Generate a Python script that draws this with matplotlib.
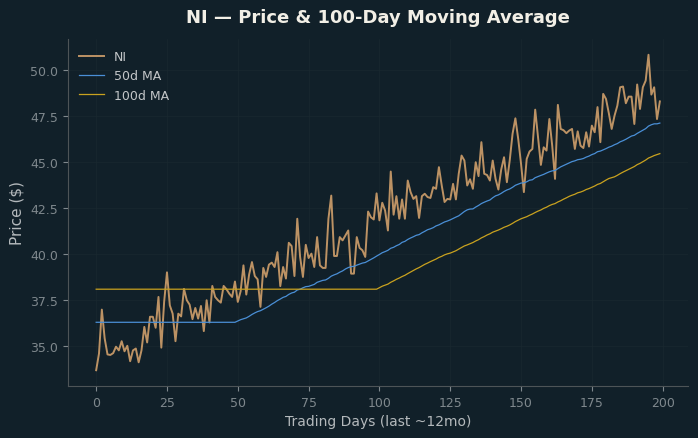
import numpy as np
import pandas as pd
import matplotlib
matplotlib.use("Agg")
import matplotlib.pyplot as plt

# closing prices, one per trading day
price = [
    33.67, 34.58, 36.97, 35.40, 34.53, 34.50, 34.60, 34.95, 34.75, 35.25,
    34.70, 35.00, 34.16, 34.75, 34.85, 34.10, 34.75, 36.03, 35.18, 36.58,
    36.58, 35.98, 37.66, 34.90, 37.40, 39.00, 37.20, 36.75, 35.25, 36.75,
    36.60, 38.10, 37.48, 37.24, 36.45, 37.06, 36.48, 37.17, 35.80, 37.48,
    36.27, 38.26, 37.66, 37.48, 37.35, 38.26, 38.08, 37.84, 37.66, 38.50,
    37.39, 37.97, 39.38, 37.79, 38.88, 39.56, 38.80, 38.62, 37.12, 39.24,
    38.75, 39.42, 39.53, 39.29, 40.10, 38.25, 39.29, 38.66, 40.61, 40.43,
    38.80, 41.92, 39.84, 38.75, 40.50, 39.78, 40.02, 39.29, 40.92, 39.38,
    39.24, 39.24, 41.92, 43.18, 39.89, 39.89, 40.92, 40.74, 41.01, 41.28,
    38.93, 38.93, 40.92, 40.33, 40.20, 39.84, 42.31, 42.00, 41.88, 43.30,
    41.83, 42.79, 42.37, 41.28, 44.49, 42.14, 43.15, 41.92, 42.97, 41.92,
    44.00, 43.37, 43.00, 43.15, 41.96, 43.15, 43.28, 43.10, 43.05, 43.64,
    43.55, 44.73, 43.73, 42.83, 43.00, 42.97, 43.82, 42.97, 44.37, 45.36,
    45.09, 43.73, 44.07, 43.55, 45.00, 44.24, 46.09, 44.37, 44.30, 44.00,
    45.09, 44.09, 43.51, 44.60, 45.27, 43.91, 45.09, 46.54, 47.39, 46.27,
    44.91, 43.37, 45.18, 45.58, 45.72, 47.86, 46.36, 44.85, 45.81, 45.63,
    47.35, 45.90, 44.09, 48.12, 46.81, 46.74, 46.58, 46.72, 46.81, 45.72,
    46.68, 45.90, 45.77, 46.63, 45.85, 46.99, 46.63, 48.00, 46.09, 48.72,
    48.44, 47.66, 46.81, 47.53, 48.08, 49.08, 49.12, 48.21, 48.57, 48.57,
    47.08, 49.23, 47.90, 49.08, 49.44, 50.85, 48.68, 49.08, 47.35, 48.31,
]
ticker = "NI"
windows = [50, 100]

days = np.arange(len(price))
s = pd.Series(price)
# moving averages, the early days take the first full-window value
ma = {w: s.rolling(w).mean().bfill() for w in windows}

bg = "#112029"
fig, ax = plt.subplots(figsize=(6.98, 4.39), dpi=100)
fig.patch.set_facecolor(bg)
ax.set_facecolor(bg)

ax.plot(days, price, color="#dba76f", lw=1.4, alpha=0.85, label=ticker)
ax.plot(days, ma[50], color="#4a8fd6", lw=0.9, label="50d MA")
ax.plot(days, ma[100], color="#c9a21f", lw=0.9, label="100d MA")

ax.set_title("{} — Price & 100-Day Moving Average".format(ticker),
             color="#f2efe6", fontsize=13, fontweight="bold", pad=12)
ax.set_xlabel("Trading Days (last ~12mo)", color="#b4b9bc", fontsize=10)
ax.set_ylabel("Price ($)", color="#b4b9bc", fontsize=11)

ax.set_xticks(range(0, 201, 25))
ax.set_yticks(np.arange(35.0, 50.1, 2.5))
ax.yaxis.set_major_formatter(matplotlib.ticker.FormatStrFormatter("%.1f"))
ax.tick_params(colors="#7f888d", labelsize=9)
ax.grid(True, color="#19282f", lw=0.5)
for side in ["top", "right"]:
    ax.spines[side].set_visible(False)
for side in ["left", "bottom"]:
    ax.spines[side].set_color("#4d5457")

leg = ax.legend(loc="upper left", frameon=False, fontsize=9)
for t in leg.get_texts():
    t.set_color("#c3c6c8")

plt.subplots_adjust(left=0.0974, right=0.9857, top=0.9089, bottom=0.1185)
plt.savefig("out.png", dpi=100, facecolor=bg)
